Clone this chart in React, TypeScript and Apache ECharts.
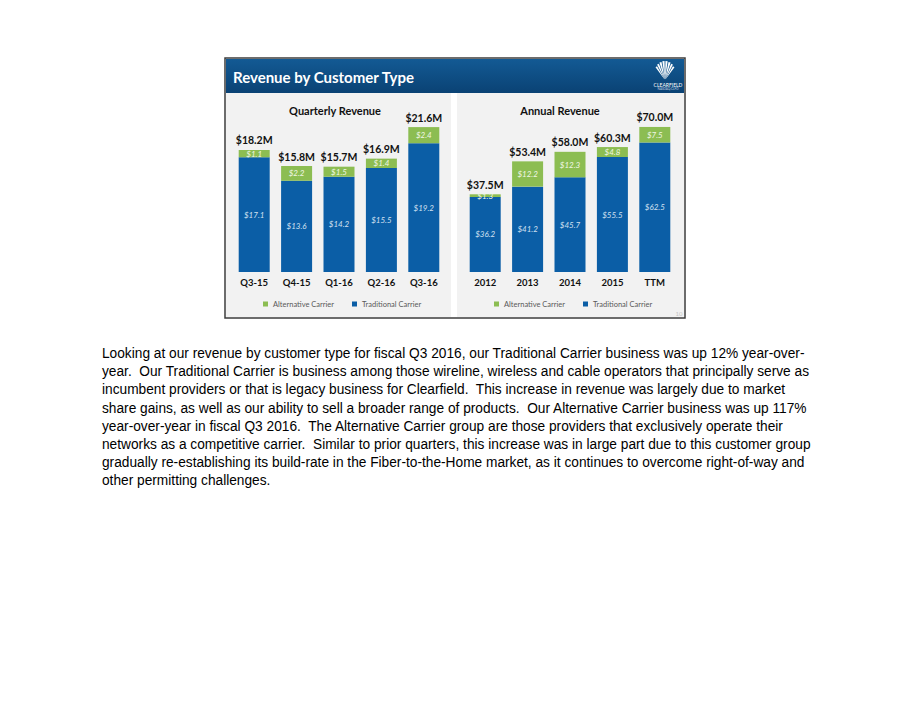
import React, { useEffect, useRef } from "react";
import * as echarts from "echarts";

const quarters = ["Q3-15", "Q4-15", "Q1-16", "Q2-16", "Q3-16"];
const qTraditional = [17.1, 13.6, 14.2, 15.5, 19.2];
const qAlternative = [1.1, 2.2, 1.5, 1.4, 2.4];
const qTotals = ["$18.2M", "$15.8M", "$15.7M", "$16.9M", "$21.6M"];

const years = ["2012", "2013", "2014", "2015", "TTM"];
const yTraditional = [36.2, 41.2, 45.7, 55.5, 62.5];
const yAlternative = [1.3, 12.2, 12.3, 4.8, 7.5];
const yTotals = ["$37.5M", "$53.4M", "$58.0M", "$60.3M", "$70.0M"];

const legendNames = ["Alternative Carrier", "Traditional Carrier"];
const slideTitle = "Revenue by Customer Type";
const panelTitles = ["Quarterly Revenue", "Annual Revenue"];

const paragraphLines = [
  "Looking at our revenue by customer type for fiscal Q3 2016, our Traditional Carrier business was up 12% year-over-",
  "year.  Our Traditional Carrier is business among those wireline, wireless and cable operators that principally serve as",
  "incumbent providers or that is legacy business for Clearfield.  This increase in revenue was largely due to market",
  "share gains, as well as our ability to sell a broader range of products.  Our Alternative Carrier business was up 117%",
  "year-over-year in fiscal Q3 2016.  The Alternative Carrier group are those providers that exclusively operate their",
  "networks as a competitive carrier.  Similar to prior quarters, this increase was in large part due to this customer group",
  "gradually re-establishing its build-rate in the Fiber-to-the-Home market, as it continues to overcome right-of-way and",
  "other permitting challenges.",
];

const BLUE = "#0b5ea6";
const GREEN = "#8cbd52";
const FONT = "Lato, 'Open Sans', sans-serif";

function money(v: number) {
  return "$" + v.toFixed(1);
}

function barSeries(idx: number, trad: number[], alt: number[], totals: string[]) {
  const stack = "s" + idx;
  return [
    {
      name: legendNames[1],
      type: "bar",
      xAxisIndex: idx,
      yAxisIndex: idx,
      stack,
      barWidth: 31,
      data: trad,
      itemStyle: { color: BLUE },
      label: {
        show: true,
        position: "inside",
        formatter: (p: any) => money(p.value),
        fontStyle: "italic",
        fontSize: 8,
        fontFamily: FONT,
        color: "#d3e1f1",
      },
    },
    {
      name: legendNames[0],
      type: "bar",
      xAxisIndex: idx,
      yAxisIndex: idx,
      stack,
      barWidth: 31,
      data: alt,
      itemStyle: { color: GREEN },
      label: {
        show: true,
        position: "inside",
        formatter: (p: any) => money(p.value),
        fontStyle: "italic",
        fontSize: 8,
        fontFamily: FONT,
        color: "#f1f7e6",
      },
    },
    {
      name: "total",
      type: "bar",
      xAxisIndex: idx,
      yAxisIndex: idx,
      stack,
      barWidth: 31,
      data: totals.map(() => 0),
      itemStyle: { color: "transparent" },
      label: {
        show: true,
        position: "top",
        distance: 4,
        formatter: (p: any) => totals[p.dataIndex],
        fontWeight: "bold",
        fontSize: 10.5,
        fontFamily: FONT,
        color: "#111111",
      },
    },
  ];
}

function shellPetals() {
  const cx = 665;
  const cy = 80;
  const n = 8;
  const start = -Math.PI / 2 - (38 * Math.PI) / 180;
  const end = -Math.PI / 2 + (38 * Math.PI) / 180;
  const step = (end - start) / n;
  const out: any[] = [];
  for (let i = 0; i < n; i++) {
    const mid = Math.abs(i + 0.5 - n / 2) / (n / 2);
    out.push({
      type: "sector",
      shape: {
        cx,
        cy,
        r: 19 - 4 * mid * mid,
        r0: 1,
        startAngle: start + i * step + 0.025,
        endAngle: start + (i + 1) * step - 0.025,
      },
      style: { fill: "#ffffff" },
      silent: true,
    });
  }
  return out;
}

export default function App() {
  const ref = useRef<HTMLDivElement>(null);
  useEffect(() => {
    if (!ref.current) return;
    const chart = echarts.init(ref.current, undefined, { renderer: "svg" });
    const axisLabel = {
      fontWeight: "bold",
      fontSize: 9.5,
      color: "#111111",
      fontFamily: FONT,
      margin: 5,
    };
    const legendBase = {
      data: legendNames,
      icon: "rect",
      itemWidth: 5,
      itemHeight: 5,
      itemGap: 18,
      padding: 0,
      top: 300,
      selectedMode: false,
      textStyle: { fontSize: 7.5, color: "#595959", fontFamily: FONT },
    };
    const graphics: any[] = [
      {
        type: "rect",
        shape: { x: 225, y: 58, width: 460, height: 260 },
        style: { fill: "#ffffff", stroke: "#3c3c3c", lineWidth: 1.5 },
        z: -10,
      },
      {
        type: "rect",
        shape: { x: 226, y: 93, width: 225, height: 224 },
        style: { fill: "#f2f2f2" },
        z: -9,
      },
      {
        type: "rect",
        shape: { x: 457, y: 93, width: 227, height: 224 },
        style: { fill: "#f2f2f2" },
        z: -9,
      },
      {
        type: "rect",
        shape: { x: 226, y: 59, width: 458, height: 34 },
        style: {
          fill: new echarts.graphic.LinearGradient(0, 0, 0, 1, [
            { offset: 0, color: "#135a94" },
            { offset: 1, color: "#0a4274" },
          ]),
        },
        z: -8,
      },
      {
        type: "text",
        x: 233,
        y: 77,
        style: {
          text: slideTitle,
          fill: "#ffffff",
          font: "bold 15px " + FONT,
          textVerticalAlign: "middle",
        },
      },
      {
        type: "text",
        x: 335,
        y: 110,
        style: {
          text: panelTitles[0],
          fill: "#111111",
          font: "bold 11px " + FONT,
          textAlign: "center",
          textVerticalAlign: "middle",
        },
      },
      {
        type: "text",
        x: 560,
        y: 110,
        style: {
          text: panelTitles[1],
          fill: "#111111",
          font: "bold 11px " + FONT,
          textAlign: "center",
          textVerticalAlign: "middle",
        },
      },
      ...shellPetals(),
      {
        type: "text",
        x: 668,
        y: 84.5,
        style: {
          text: "CLEARFIELD",
          fill: "#ffffff",
          font: "5px " + FONT,
          textAlign: "center",
          textVerticalAlign: "middle",
        },
      },
      {
        type: "text",
        x: 668,
        y: 88.5,
        style: {
          text: "NASDAQ:CLFD",
          fill: "#c9d8e8",
          font: "3px " + FONT,
          textAlign: "center",
          textVerticalAlign: "middle",
        },
      },
      {
        type: "text",
        x: 679,
        y: 313,
        style: {
          text: "10",
          fill: "#c4c4c4",
          font: "6px " + FONT,
          textAlign: "center",
          textVerticalAlign: "middle",
        },
      },
      ...paragraphLines.map((t, i) => ({
        type: "text",
        x: 102,
        y: 353 + i * 18.1,
        scaleX: 0.897,
        style: {
          text: t,
          fill: "#000000",
          font: "15.3px 'Liberation Sans', Arial, sans-serif",
          textVerticalAlign: "middle",
        },
      })),
    ];

    chart.setOption({
      animation: false,
      backgroundColor: "#ffffff",
      grid: [
        { left: 233, top: 111, width: 212, height: 161 },
        { left: 464, top: 111, width: 212, height: 161 },
      ],
      xAxis: [
        {
          type: "category",
          gridIndex: 0,
          data: quarters,
          axisLine: { show: false },
          axisTick: { show: false },
          axisLabel,
        },
        {
          type: "category",
          gridIndex: 1,
          data: years,
          axisLine: { show: false },
          axisTick: { show: false },
          axisLabel,
        },
      ],
      yAxis: [
        { type: "value", gridIndex: 0, min: 0, max: 24, show: false },
        { type: "value", gridIndex: 1, min: 0, max: 77.7, show: false },
      ],
      legend: [
        { ...legendBase, left: 263 },
        { ...legendBase, left: 494 },
      ],
      series: [
        ...barSeries(0, qTraditional, qAlternative, qTotals),
        ...barSeries(1, yTraditional, yAlternative, yTotals),
      ],
      graphic: graphics,
    });
    return () => chart.dispose();
  }, []);
  return (
    <div
      ref={ref}
      style={{ position: "fixed", left: 0, top: 0, width: 911, height: 704, background: "#fff" }}
    />
  );
}
